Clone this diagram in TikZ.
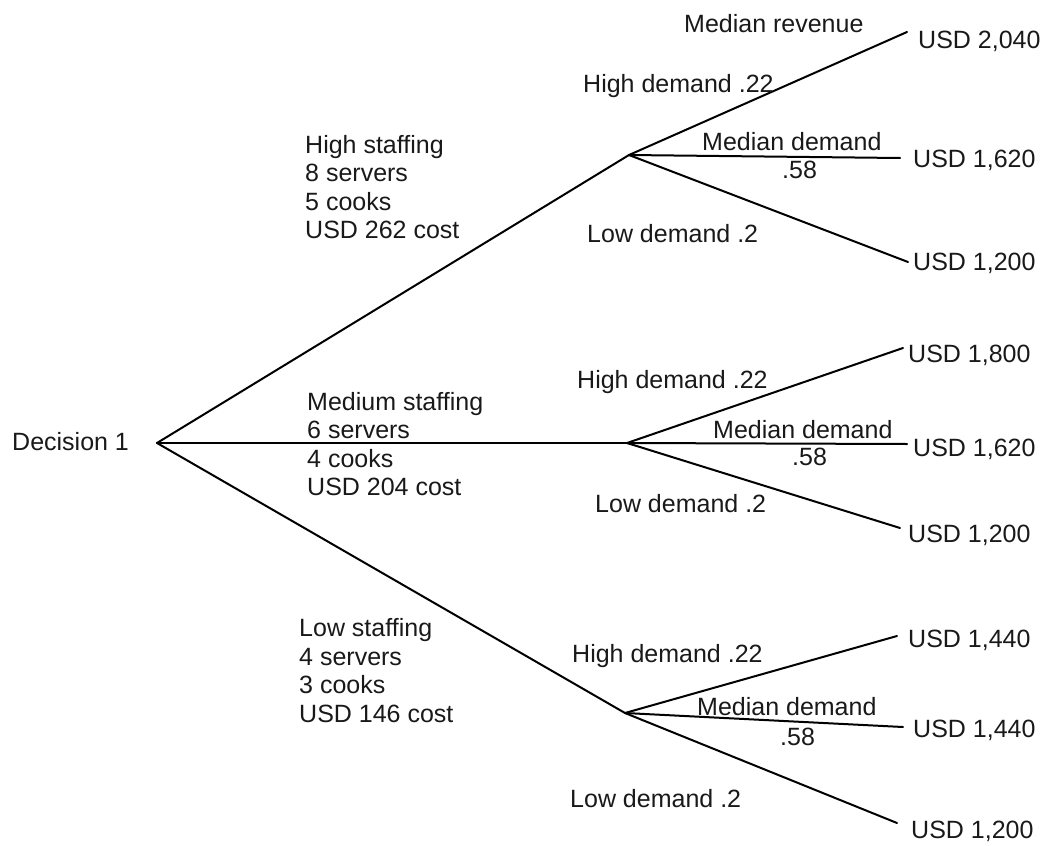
\documentclass[tikz,border=0pt]{standalone}
\usepackage{fontspec}
\setmainfont{Liberation Sans}
\begin{document}
\begin{tikzpicture}[x=1pt,y=-1pt,
  lbl/.style={anchor=base west,inner sep=0pt,text=black!90,font=\fontsize{25}{28.5}\selectfont},
  blk/.style={lbl,align=left},
  br/.style={draw=black,line width=2pt,line cap=round}]
\useasboundingbox (0,0) rectangle (1045,846);
% branch points
\coordinate (root) at (157,443);
\coordinate (n1) at (629,155);
\coordinate (n2) at (627,443);
\coordinate (n3) at (625,713);
\coordinate (e11) at (907,32);
\coordinate (e12) at (900,158);
\coordinate (e13) at (908,262);
\coordinate (e21) at (903,348);
\coordinate (e22) at (907,444);
\coordinate (e23) at (900,528);
\coordinate (e31) at (897,636);
\coordinate (e32) at (903,727);
\coordinate (e33) at (897,823);
% connectors
\draw[br] (root) -- (n1);
\draw[br] (root) -- (n2);
\draw[br] (root) -- (n3);
\draw[br] (n1) -- (e11);
\draw[br] (n1) -- (e12);
\draw[br] (n1) -- (e13);
\draw[br] (n2) -- (e21);
\draw[br] (n2) -- (e22);
\draw[br] (n2) -- (e23);
\draw[br] (n3) -- (e31);
\draw[br] (n3) -- (e32);
\draw[br] (n3) -- (e33);
% labels
\node[lbl] (dec) at (12,450) {Decision 1};
\node[blk] (hs) at (305,238.5) {High staffing\\8 servers\\5 cooks\\USD 262 cost};
\node[blk] (ms) at (307,495.5) {Medium staffing\\6 servers\\4 cooks\\USD 204 cost};
\node[blk] (ls) at (299,722) {Low staffing\\4 servers\\3 cooks\\USD 146 cost};
\node[lbl] (mr) at (684,32) {Median revenue};
\node[lbl] (v11) at (918,48) {USD 2,040};
\node[lbl] (h1) at (583,92) {High demand .22};
\node[lbl] (m1) at (702,150) {Median demand};
\node[lbl] (p1) at (782,178) {.58};
\node[lbl] (v12) at (913,167) {USD 1,620};
\node[lbl] (l1) at (587,242) {Low demand .2};
\node[lbl] (v13) at (913,270) {USD 1,200};
\node[lbl] (v21) at (908,362) {USD 1,800};
\node[lbl] (h2) at (577,388) {High demand .22};
\node[lbl] (m2) at (713,438) {Median demand};
\node[lbl] (p2) at (792,465) {.58};
\node[lbl] (v22) at (913,456) {USD 1,620};
\node[lbl] (l2) at (595,512) {Low demand .2};
\node[lbl] (v23) at (908,542) {USD 1,200};
\node[lbl] (v31) at (908,647) {USD 1,440};
\node[lbl] (h3) at (572,662) {High demand .22};
\node[lbl] (m3) at (697,715) {Median demand};
\node[lbl] (p3) at (780,745) {.58};
\node[lbl] (v32) at (913,737) {USD 1,440};
\node[lbl] (l3) at (570,807) {Low demand .2};
\node[lbl] (v33) at (911,838) {USD 1,200};
\end{tikzpicture}
\end{document}
